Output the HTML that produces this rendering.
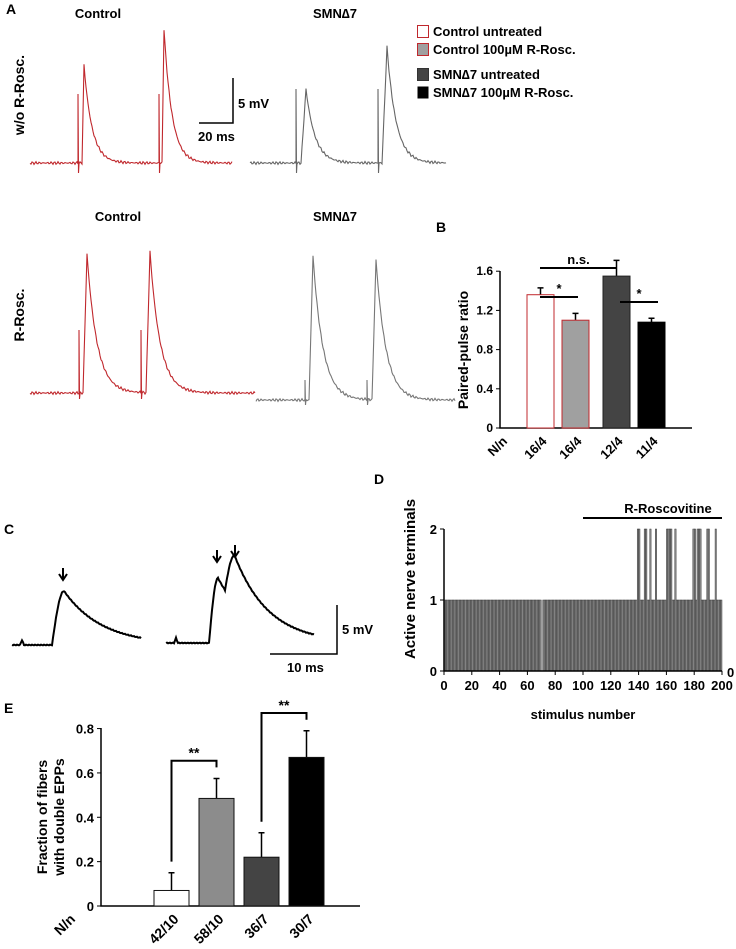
<!DOCTYPE html>
<html><head><meta charset="utf-8"><style>
body{margin:0;background:#fff;}
svg{display:block;font-family:"Liberation Sans",sans-serif;font-weight:bold;}
</style></head><body>
<svg width="736" height="949" viewBox="0 0 736 949" id="fig">
<g id="A">
<text x="6" y="14" font-size="14">A</text>
<text x="98" y="18" font-size="13" text-anchor="middle">Control</text>
<text x="335" y="18" font-size="13" text-anchor="middle">SMN∆7</text>
<text transform="translate(24,95) rotate(-90)" font-size="14" text-anchor="middle">w/o R-Rosc.</text>
<text x="118" y="221" font-size="13" text-anchor="middle">Control</text>
<text x="335" y="221" font-size="13" text-anchor="middle">SMN∆7</text>
<text transform="translate(24,315) rotate(-90)" font-size="14" text-anchor="middle">R-Rosc.</text>
<path d="M233 78V123H199" fill="none" stroke="#000" stroke-width="1.5"/>
<text x="238" y="108" font-size="13">5 mV</text>
<text x="198" y="141" font-size="13">20 ms</text>
<g id="traces"></g>
<g>
<rect x="417.5" y="25.5" width="11" height="12" fill="#fff" stroke="#c0282d"/>
<text x="433" y="36" font-size="13">Control untreated</text>
<rect x="417.5" y="43.5" width="11" height="12" fill="#a0a0a0" stroke="#c0282d"/>
<text x="433" y="54" font-size="13">Control 100µM R-Rosc.</text>
<rect x="417.5" y="68.5" width="11" height="12" fill="#444" stroke="#333"/>
<text x="433" y="79" font-size="13">SMN∆7 untreated</text>
<rect x="417.5" y="86.5" width="11" height="12" fill="#000"/>
<text x="433" y="97" font-size="13">SMN∆7 100µM R-Rosc.</text>
</g>
</g>
<g id="B">
<text x="436" y="232" font-size="14">B</text>
<text transform="translate(468,350) rotate(-90)" font-size="14" text-anchor="middle">Paired-pulse ratio</text>
<g id="bchart"></g>
</g>
<g id="C">
<text x="4" y="534" font-size="14">C</text>
<g id="ctraces"></g>
<path d="M337 605V654H270" fill="none" stroke="#000" stroke-width="1.5"/>
<text x="342" y="634" font-size="13">5 mV</text>
<text x="287" y="672" font-size="13">10 ms</text>
</g>
<g id="D">
<text x="374" y="484" font-size="14">D</text>
<text transform="translate(415,579) rotate(-90)" font-size="15" text-anchor="middle">Active nerve terminals</text>
<text x="583" y="719" font-size="13" text-anchor="middle">stimulus number</text>
<line x1="583" y1="518" x2="722" y2="518" stroke="#000" stroke-width="2"/>
<text x="668" y="513" font-size="13" text-anchor="middle">R-Roscovitine</text>
<g id="dchart"></g>
</g>
<g id="E">
<text x="4" y="713" font-size="14">E</text>
<text transform="translate(47,817) rotate(-90)" font-size="14" text-anchor="middle">Fraction of fibers</text>
<text transform="translate(64,817) rotate(-90)" font-size="14" text-anchor="middle">with double EPPs</text>
<g id="echart"></g>
</g>
</svg>
<script>
// Panel B data
const bCats=["16/4","16/4","12/4","11/4"];
const bVals=[1.36,1.10,1.55,1.08];
const bErr=[0.07,0.07,0.16,0.04];
const bTicks=[0,0.4,0.8,1.2,1.6];
// Panel E data
const eCats=["42/10","58/10","36/7","30/7"];
const eVals=[0.07,0.485,0.22,0.67];
const eErr=[0.08,0.09,0.11,0.12];
const eTicks=[0,0.2,0.4,0.6,0.8];
// Panel D data
const dTwos=[140,141,145,146,149,153,161,162,163,164,167,180,181,183,184,185,190,191,196];
const dMissing=[71];
const dXTicks=[0,20,40,60,80,100,120,140,160,180,200];
const dYTicks=[0,1,2];

const NS="http://www.w3.org/2000/svg";
function mk(parent,tag,attrs,text){const e=document.createElementNS(NS,tag);for(const k in attrs)e.setAttribute(k,attrs[k]);if(text!==undefined)e.textContent=text;parent.appendChild(e);return e;}

// Panel B
(function(){
 const g=document.getElementById('bchart');
 const y=v=>428-v*98; const x0=[527,562,603,638],w=27;
 const fills=["#fff","#a0a0a0","#444","#000"],strokes=["#c0282d","#c0282d","#222","#000"];
 let ax=mk(g,'path',{d:'M500 271V428H692',fill:'none',stroke:'#000','stroke-width':1.5});
 
 bTicks.forEach(t=>{let l=mk(g,'line',{x1:496,x2:500,y1:y(t),y2:y(t),stroke:'#000'});
  
  let tx=mk(g,'text',{x:493,y:y(t)+4,'font-size':12,'text-anchor':'end'},String(t));
  });
 bVals.forEach((v,i)=>{const cx=x0[i]+w/2;
  let e=mk(g,'path',{d:`M${cx} ${y(v)}V${y(v+bErr[i])}M${cx-3} ${y(v+bErr[i])}H${cx+3}`,stroke:'#000','stroke-width':1.5});
  
  let r=mk(g,'rect',{x:x0[i],y:y(v),width:w,height:428-y(v),fill:fills[i],stroke:strokes[i],'stroke-width':1});
  
  let t=mk(g,'text',{transform:`translate(${cx+7},442) rotate(-45)`,'font-size':13,'text-anchor':'end'},bCats[i]);
  });
 let nn=mk(g,'text',{transform:'translate(508,442) rotate(-45)','font-size':13,'text-anchor':'end'},'N/n');
 
 const sig=[[540,617,268,'n.s.'],[540,578,297,'*'],[620,658,302,'*']];
 sig.forEach(s=>{let l=mk(g,'line',{x1:s[0],x2:s[1],y1:s[2],y2:s[2],stroke:'#000','stroke-width':2});
  
  let t=mk(g,'text',{x:(s[0]+s[1])/2,y:s[2]-4,'font-size':13,'text-anchor':'middle'},s[3]);
  });
})();

// Panel E
(function(){
 const g=document.getElementById('echart');
 const y=v=>906-v*221.8; const x0=[154,199,244,289],w=35;
 const fills=["#fff","#8c8c8c","#444","#000"];
 let ax=mk(g,'path',{d:'M101 728V906H360',fill:'none',stroke:'#000','stroke-width':1.5});
 
 eTicks.forEach(t=>{let l=mk(g,'line',{x1:97,x2:101,y1:y(t),y2:y(t),stroke:'#000'});
  
  let tx=mk(g,'text',{x:94,y:y(t)+5,'font-size':13,'text-anchor':'end'},String(t));
  });
 eVals.forEach((v,i)=>{const cx=x0[i]+w/2;
  let e=mk(g,'path',{d:`M${cx} ${y(v)}V${y(v+eErr[i])}M${cx-3} ${y(v+eErr[i])}H${cx+3}`,stroke:'#000','stroke-width':1.5});
  
  let r=mk(g,'rect',{x:x0[i],y:y(v),width:w,height:906-y(v),fill:fills[i],stroke:'#111','stroke-width':1});
  
  let t=mk(g,'text',{transform:`translate(${cx+8},920) rotate(-45)`,'font-size':14,'text-anchor':'end'},eCats[i]);
  });
 let nn=mk(g,'text',{transform:'translate(76,920) rotate(-45)','font-size':14,'text-anchor':'end'},'N/n');
 
 const br=[[0,1],[2,3]];
 br.forEach(b=>{const a=x0[b[0]]+w/2,c=x0[b[1]]+w/2;
  const top=y(Math.max(eVals[b[0]]+eErr[b[0]],eVals[b[1]]+eErr[b[1]])+0.08);
  const ya=y(eVals[b[0]]+eErr[b[0]]+0.05),yc=y(eVals[b[1]]+eErr[b[1]]+0.05);
  let p=mk(g,'path',{d:`M${a} ${ya}V${top}H${c}V${yc}`,fill:'none',stroke:'#000','stroke-width':2});
  
  let t=mk(g,'text',{x:(a+c)/2,y:top-3,'font-size':14,'text-anchor':'middle'},'**');
  });
})();

// Panel D
(function(){
 const g=document.getElementById('dchart');
 const x=v=>444+v*1.39, y=v=>671-v*71;
 for(let i=1;i<=200;i++){ if(dMissing.includes(i))continue;
  const v=dTwos.includes(i)?2:1;
  let r=mk(g,'rect',{x:x(i-1),y:y(v),width:1.39,height:671-y(v),fill:'#8a8a8a',stroke:'#333','stroke-width':0.45});
  }
 let ax=mk(g,'path',{d:'M444 529V671H722',fill:'none',stroke:'#000','stroke-width':1.5});
 
 dYTicks.forEach(t=>{let l=mk(g,'line',{x1:440,x2:444,y1:y(t),y2:y(t),stroke:'#000'});
  
  let tx=mk(g,'text',{x:437,y:y(t)+5,'font-size':13,'text-anchor':'end'},String(t));
  });
 dXTicks.forEach(t=>{let l=mk(g,'line',{x1:x(t),x2:x(t),y1:671,y2:675,stroke:'#000'});
  
  let tx=mk(g,'text',{x:x(t),y:690,'font-size':13,'text-anchor':'middle'},String(t));
  });
 let z=mk(g,'text',{x:727,y:677,'font-size':13},'0');
 
})();

// Traces (panel A & C)
function noise(i){return Math.sin(i*1.7)*0.8+Math.sin(i*4.3)*0.6;}
function epsp(x0,x1,base,events,decay,art,col,name,parent,sw){
 let pts=[];
 for(let xx=x0;xx<=x1;xx+=1){
  let v=base+noise(xx);
  events.forEach(ev=>{const [ax,onset,peakX,peakY]=ev;
   if(xx>=onset&&xx<peakX) v+= (peakY-base)*(xx-onset)/(peakX-onset);
   else if(xx>=peakX) v+=(peakY-base)*Math.exp(-(xx-peakX)/decay);});
  pts.push([xx,v]);
  events.forEach(ev=>{const ax=ev[0]; if(art&&xx===ax){pts.push([xx,ev[4]]);pts.push([xx+0.5,base+art]);pts.push([xx+1,v]);}});
 }
 let p=mk(parent,'polyline',{points:pts.map(p=>p[0]+','+p[1].toFixed(1)).join(' '),fill:'none',stroke:col,'stroke-width':sw||1.1});
 
}
const tg=document.getElementById('traces');
epsp(30,232,163,[[78,82,84,65,94],[159,162,164,29,94]],8,10,'#c0282d','trace-control-untreated',tg);
epsp(250,446,163,[[296,301,306,89,89],[378,382,387,47,89]],9,10,'#666','trace-smn-untreated',tg);
epsp(30,255,393,[[79,83,87,254,330],[141,146,150,252,330]],10,6,'#c0282d','trace-control-rosc',tg);
epsp(256,455,400,[[305,309,313,256,380],[367,372,376,260,380]],10,5,'#777','trace-smn-rosc',tg);
const cg=document.getElementById('ctraces');
(function(){
 function tr(x0,x1,base,onset,peaks,decay,name){let pts=[];
  for(let xx=x0;xx<=x1;xx++){let v=base+Math.sin(xx*2.1)*0.4;
   if(Math.abs(xx-(x0+10))<2) v-=5*(2-Math.abs(xx-(x0+10)))/2;
   peaks.forEach(pk=>{const [px,py,rise]=pk;const on=px-rise;
    if(xx>=on&&xx<px) v+=(py-base)*Math.sin(Math.PI/2*(xx-on)/rise);
    else if(xx>=px) v+=(py-base)*Math.exp(-(xx-px)/decay);});
   pts.push(xx+','+v.toFixed(1));}
  let p=mk(cg,'polyline',{points:pts.join(' '),fill:'none',stroke:'#000','stroke-width':2});
  }
 tr(12,141,645,52,[[64,591,12]],38,'trace-single-epp');
 tr(166,314,643,210,[[218,578,9],[235,596,10]],34,'trace-double-epp');
 [[63,568],[217,550],[235,545]].forEach(a=>{let p=mk(cg,'path',{d:`M${a[0]} ${a[1]}V${a[1]+11}M${a[0]-4} ${a[1]+6}L${a[0]} ${a[1]+12}L${a[0]+4} ${a[1]+6}`,fill:'none',stroke:'#000','stroke-width':2});
  });
})();
</script>
</body></html>
